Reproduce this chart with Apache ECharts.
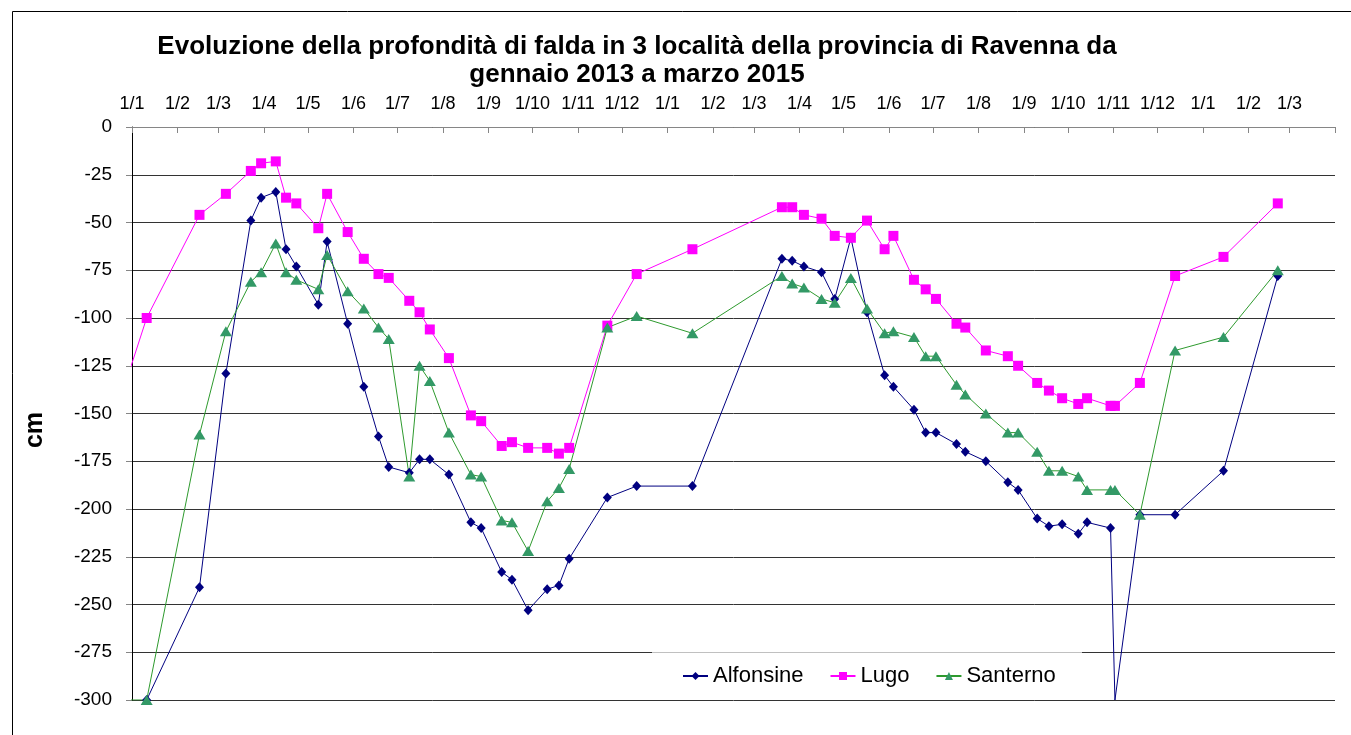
<!DOCTYPE html>
<html>
<head>
<meta charset="utf-8">
<title>Profondità di falda - Ravenna</title>
<script src="https://cdn.jsdelivr.net/npm/echarts@6.0.0/dist/echarts.min.js"></script>
<style>
  html, body { margin: 0; padding: 0; background: #fff; }
  #chart { width: 1351px; height: 735px; }
</style>
</head>
<body>
<div id="chart"></div>
<script>
// measurement dates (first one is before the axis start, so its segment is clipped)
const dates = [
  '2012-12-20', '2013-01-11', '2013-02-16', '2013-03-06', '2013-03-23', '2013-03-30',
  '2013-04-09', '2013-04-16', '2013-04-23', '2013-05-08', '2013-05-14', '2013-05-28',
  '2013-06-08', '2013-06-18', '2013-06-25', '2013-07-09', '2013-07-16', '2013-07-23',
  '2013-08-05', '2013-08-20', '2013-08-27', '2013-09-10', '2013-09-17', '2013-09-28',
  '2013-10-11', '2013-10-19', '2013-10-26', '2013-11-21', '2013-12-11', '2014-01-18',
  '2014-03-20', '2014-03-27', '2014-04-04', '2014-04-16', '2014-04-25', '2014-05-06',
  '2014-05-17', '2014-05-29', '2014-06-04', '2014-06-18', '2014-06-26', '2014-07-03',
  '2014-07-17', '2014-07-23', '2014-08-06', '2014-08-21', '2014-08-28', '2014-09-10',
  '2014-09-18', '2014-09-27', '2014-10-08', '2014-10-14', '2014-10-30', '2014-11-02',
  '2014-11-19', '2014-12-13', '2015-01-15', '2015-02-21'
];

const alfonsine = [
  null, -300, -241, -129, -49, -37,
  -34, -64, -73, -93, -60, -103,
  -136, -162, -178, -181, -174, -174,
  -182, -207, -210, -233, -237, -253,
  -242, -240, -226, -194, -188, -188,
  -69, -70, -73, -76, -90, -58,
  -97, -130, -136, -148, -160, -160,
  -166, -170, -175, -186, -190, -205,
  -209, -208, -213, -207, -210, -300,
  -203, -203, -180, -78
];

const lugo = [
  -152, -100, -46, -35, -23, -19,
  -18, -37, -40, -53, -35, -55,
  -69, -77, -79, -91, -97, -106,
  -121, -151, -154, -167, -165, -168,
  -168, -171, -168, -104, -77, -64,
  -42, -42, -46, -48, -57, -58,
  -49, -64, -57, -80, -85, -90,
  -103, -105, -117, -120, -125, -134,
  -138, -142, -145, -142, -146, -146,
  -134, -78, -68, -40
];

const santerno = [
  -300, -300, -161, -107, -81, -76,
  -61, -76, -80, -85, -67, -86,
  -95, -105, -111, -183, -125, -133,
  -160, -182, -183, -206, -207, -222,
  -196, -189, -179, -105, -99, -108,
  -78, -82, -84, -90, -92, -79,
  -95, -108, -107, -110, -120, -120,
  -135, -140, -150, -160, -160, -170,
  -180, -180, -183, -190, -190, -190,
  -203, -117, -110, -75
];

// the Alfonsine reading that drops to the axis floor shows no marker
const alfonsineNoMarker = ['2014-11-02'];

// axis runs from 1/1/2013 to 1/4/2015, ticks on every first of the month
const axisStart = '2013-01-01';
const axisEnd = '2015-04-01';

function dayValue(s) {
  const p = s.split('-');
  return new Date(+p[0], +p[1] - 1, +p[2]).getTime();
}

const tickMonths = [];
for (let d = new Date(2013, 0, 1); d.getTime() <= dayValue(axisEnd); d.setMonth(d.getMonth() + 1)) {
  tickMonths.push(d.getTime());
}
const labelMonths = tickMonths.slice(0, -1);

const seriesNames = ['Alfonsine', 'Lugo', 'Santerno'];

function toPoints(values, noMarker) {
  return dates.map((d, i) => {
    const pt = [dayValue(d), values[i]];
    if (noMarker && noMarker.indexOf(d) >= 0) {
      return { value: pt, symbol: 'none' };
    }
    return pt;
  });
}

const fontFamily = '"Liberation Sans", Arial, sans-serif';
const chart = echarts.init(document.getElementById('chart'));

const option = {
  animation: false,
  backgroundColor: '#fff',
  textStyle: { fontFamily: fontFamily },
  title: {
    text: 'Evoluzione della profondità di falda in 3 località della provincia di Ravenna da\ngennaio 2013 a marzo 2015',
    left: 632,
    top: 28,
    textAlign: 'center',
    textStyle: {
      fontFamily: fontFamily,
      fontSize: 26,
      fontWeight: 'bold',
      color: '#000',
      lineHeight: 28
    }
  },
  legend: {
    data: seriesNames,
    left: 652,
    top: 652,
    orient: 'horizontal',
    backgroundColor: '#fff',
    padding: [13, 25, 13, 30],
    itemGap: 26,
    itemWidth: 25,
    itemHeight: 10,
    textStyle: { fontFamily: fontFamily, fontSize: 22, color: '#000' }
  },
  grid: {
    left: 132,
    right: 16,
    top: 127,
    bottom: 35
  },
  xAxis: {
    type: 'value',
    position: 'top',
    min: dayValue(axisStart),
    max: dayValue(axisEnd),
    axisLine: { show: true, lineStyle: { color: '#868686', width: 1 } },
    axisTick: {
      show: true,
      inside: true,
      length: 6,
      customValues: tickMonths,
      lineStyle: { color: '#868686' }
    },
    axisLabel: {
      customValues: labelMonths,
      margin: 14,
      fontSize: 18,
      color: '#000',
      fontFamily: fontFamily,
      formatter: function (val) {
        const d = new Date(val);
        return d.getDate() + '/' + (d.getMonth() + 1);
      }
    },
    splitLine: { show: false }
  },
  yAxis: {
    type: 'value',
    min: -300,
    max: 0,
    interval: 25,
    axisLine: { show: true, lineStyle: { color: '#000', width: 1 } },
    axisTick: { show: true, inside: false, length: 6, lineStyle: { color: '#868686' } },
    axisLabel: { margin: 20, fontSize: 19, color: '#000', fontFamily: fontFamily },
    splitLine: { show: true, lineStyle: { color: '#333', width: 1 } }
  },
  graphic: [
    {
      type: 'rect',
      silent: true,
      shape: { x: 12.5, y: 11.5, width: 1400, height: 800 },
      style: { fill: 'none', stroke: '#000', lineWidth: 1 },
      z: 100
    },
    {
      type: 'text',
      silent: true,
      x: 35,
      y: 430,
      rotation: Math.PI / 2,
      style: {
        text: 'cm',
        align: 'center',
        verticalAlign: 'middle',
        font: 'bold 25px ' + fontFamily,
        fill: '#000'
      }
    },
    {
      type: 'line',
      silent: true,
      shape: { x1: 652, y1: 652.5, x2: 1082, y2: 652.5 },
      style: { stroke: '#c0c0c0', lineWidth: 1 },
      z: 100
    }
  ],
  series: [
    {
      name: 'Alfonsine',
      type: 'line',
      symbol: 'diamond',
      symbolSize: [9, 10],
      color: '#000080',
      lineStyle: { width: 1, color: '#000080' },
      itemStyle: { color: '#000080' },
      data: toPoints(alfonsine, alfonsineNoMarker)
    },
    {
      name: 'Lugo',
      type: 'line',
      symbol: 'rect',
      symbolSize: 10,
      color: '#ff00ff',
      lineStyle: { width: 1, color: '#ff00ff' },
      itemStyle: { color: '#ff00ff' },
      data: toPoints(lugo)
    },
    {
      name: 'Santerno',
      type: 'line',
      symbol: 'triangle',
      symbolSize: [12, 10],
      color: '#339966',
      lineStyle: { width: 1, color: '#2e9a2e' },
      itemStyle: { color: '#339966' },
      data: toPoints(santerno)
    }
  ]
};

chart.setOption(option);
</script>
</body>
</html>
